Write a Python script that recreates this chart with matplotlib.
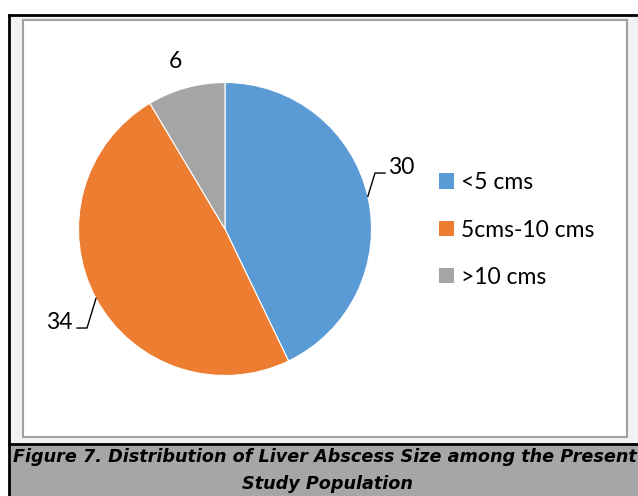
import matplotlib
matplotlib.use("Agg")
import matplotlib.pyplot as plt
from matplotlib.patches import Rectangle
from matplotlib.lines import Line2D
import numpy as np

categories = ["<5 cms", "5cms-10 cms", ">10 cms"]
values = [30, 34, 6]
colors = ["#5B9BD5", "#ED7D31", "#A5A5A5"]
caption_line1 = "Figure 7. Distribution of Liver Abscess Size among the Present"
caption_line2 = "Study Population"

W, H = 638, 496
fig = plt.figure(figsize=(W / 100, H / 100), dpi=100)
fig.patch.set_facecolor("white")

def px(x0, y0, w, h):
    return (x0 / W, 1 - (y0 + h) / H, w / W, h / H)

def rect(x0, y0, w, h, **kw):
    l, b, ww, hh = px(x0, y0, w, h)
    fig.patches.append(Rectangle((l, b), ww, hh, transform=fig.transFigure,
                                 zorder=-10, **kw))

# outer light-gray frame
rect(9, 15, 640, 490, facecolor="#F2F2F2", edgecolor="none")
# inner white chart area
rect(23, 20, 604, 417, facecolor="white", edgecolor="#A0A0A0", linewidth=1.5)
# caption band
rect(9, 444, 640, 60, facecolor="#A6A6A6", edgecolor="none")
# black lines
for (x1, y1, x2, y2) in [(9, 15, 638, 15), (9, 15, 9, 496), (9, 443.5, 638, 443.5)]:
    fig.lines.append(Line2D([x1 / W, x2 / W], [1 - y1 / H, 1 - y2 / H],
                            transform=fig.transFigure, color="black", linewidth=2,
                            zorder=-5))

# pie
cx, cy, r = 225, 229, 146.5
ax = fig.add_axes(px(cx - r, cy - r, 2 * r, 2 * r))
ax.set_zorder(5)
wedges, _ = ax.pie(values, colors=colors, startangle=90, counterclock=False,
                   radius=1, wedgeprops=dict(edgecolor="white", linewidth=0.8))
ax.set_xlim(-1, 1)
ax.set_ylim(-1, 1)
ax.set_aspect("equal")
ax.axis("off")

lab_font = dict(fontsize=16.5, family=["Lato", "DejaVu Sans"], color="black")

def mid_angle(w):
    return np.deg2rad((w.theta1 + w.theta2) / 2)

# label 30
a = mid_angle(wedges[0])
ex, ey = np.cos(a), np.sin(a)
ax.plot([ex, 1.024, 1.092], [ey, 0.382, 0.382], color="black", lw=1.0, clip_on=False)
ax.text(1.11, 0.42, str(values[0]), ha="left", va="center", clip_on=False, **lab_font)
# label 34
a = mid_angle(wedges[1])
ex, ey = np.cos(a), np.sin(a)
ax.plot([ex, -0.942, -1.010], [ey, -0.676, -0.676], color="black", lw=1.0, clip_on=False)
ax.text(-1.04, -0.635, str(values[1]), ha="right", va="center", clip_on=False, **lab_font)
# label 6
ax.text(-0.341, 1.14, str(values[2]), ha="center", va="center", clip_on=False, **lab_font)

# legend
handles = [Rectangle((0, 0), 1, 1, facecolor=c, edgecolor="none") for c in colors]
leg = fig.legend(handles, categories, loc="upper left",
                 bbox_to_anchor=(430 / W, 1 - 163 / H), frameon=False,
                 prop=dict(size=16.5, family=["Lato", "DejaVu Sans"]),
                 handlelength=0.65, handleheight=0.65, handletextpad=0.3,
                 labelspacing=1.15, borderaxespad=0)

# caption
cap_font = dict(fontsize=12.7, fontweight="bold", fontstyle="italic",
                family=["DejaVu Sans"], color="black")
fig.text(325 / W, 1 - 457 / H, caption_line1, ha="center", va="center", **cap_font)
fig.text(327 / W, 1 - 484 / H, caption_line2, ha="center", va="center", **cap_font)

fig.savefig("out.png", dpi=100)
